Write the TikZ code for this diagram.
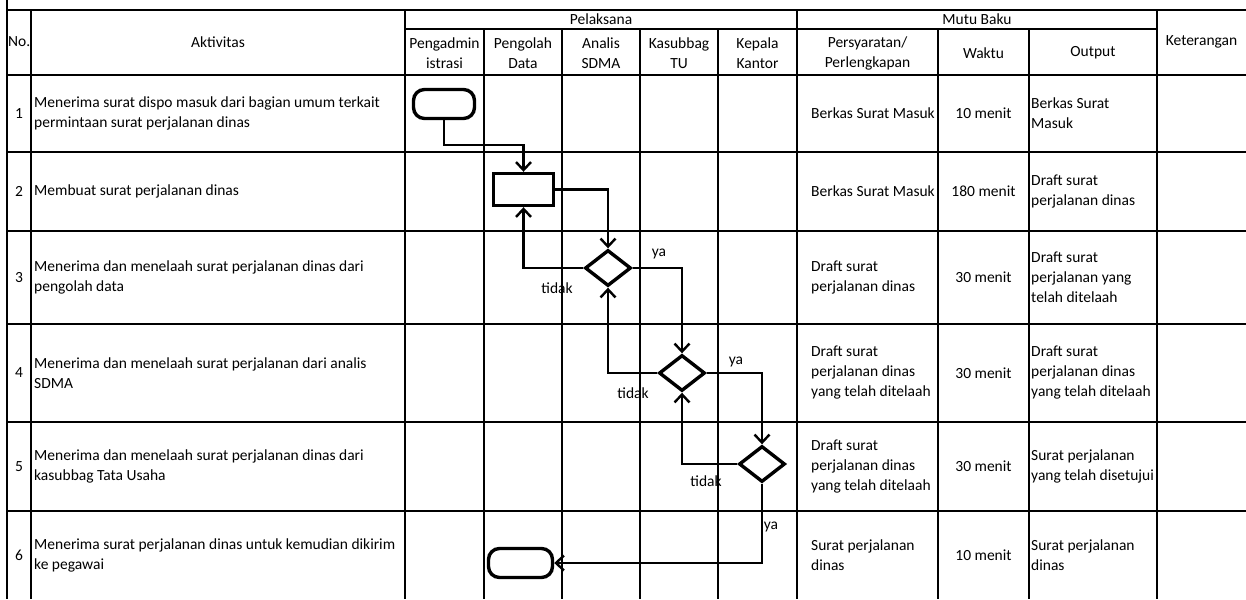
\documentclass[tikz,border=0pt]{standalone}
\usepackage{fontspec}
\setmainfont{Carlito}
\usetikzlibrary{arrows.meta,shapes.geometric}
\begin{document}
\begin{tikzpicture}[x=1pt,y=-1pt,
  tableline/.style={line width=1.9pt},
  txt/.style={font=\fontsize{15.5}{20}\selectfont, inner sep=0pt},
  ctxt/.style={txt, align=center},
  ltxt/.style={txt, align=left, anchor=west},
  shapeline/.style={draw, line width=3.4pt, inner sep=0pt, fill=white},
  terminal/.style={shapeline, rectangle, rounded corners=11pt, minimum width=61pt, minimum height=29pt},
  process/.style={shapeline, rectangle, minimum width=60pt, minimum height=32pt},
  decision/.style={shapeline, diamond, minimum width=46pt, minimum height=36pt},
  flow/.style={line width=2.4pt, -{Straight Barb[length=8pt,width=15pt]}}
]
\useasboundingbox (0,0) rectangle (1246,599);
% ---------- table ----------
\draw[tableline] (7,0) -- (7,599);
\foreach \x in {31,405,797,1157} \draw[tableline] (\x,10) -- (\x,599);
\foreach \x in {484,562,640,718,938,1029} \draw[tableline] (\x,29) -- (\x,599);
\draw[tableline] (7,10) -- (1246,10);
\draw[tableline] (405,29) -- (1157,29);
\foreach \y in {75,152,231,324,422,511} \draw[tableline] (7,\y) -- (1246,\y);
% ---------- header ----------
\node[ltxt] (hno) at (8,42) {No.};
\node[ctxt] (hakt) at (218,42) {Aktivitas};
\node[ctxt] (hpel) at (601,19) {Pelaksana};
\node[ctxt] (hadm) at (444.5,53) {Pengadmin\\istrasi};
\node[ctxt] (hpd) at (523,53) {Pengolah\\Data};
\node[ctxt] (has) at (601,53) {Analis\\SDMA};
\node[ctxt] (hkt) at (679,53) {Kasubbag\\TU};
\node[ctxt] (hkk) at (757.5,53) {Kepala\\Kantor};
\node[ctxt] (hmb) at (977,19) {Mutu Baku};
\node[ctxt] (hpp) at (867.5,53) {Persyaratan/\\Perlengkapan};
\node[ctxt] (hw) at (983.5,53) {Waktu};
\node[ctxt] (ho) at (1093,53) {Output};
\node[ctxt] (hk) at (1201.5,42) {Keterangan};
% ---------- rows ----------
\node[ctxt] (n1) at (19,113.5) {1};
\node[ltxt] (a1) at (34,113.5) {Menerima surat dispo masuk dari bagian umum terkait\\permintaan surat perjalanan dinas};
\node[ltxt] (p1) at (811,113.5) {Berkas Surat Masuk};
\node[ctxt] (w1) at (983.5,113.5) {10 menit};
\node[ltxt] (o1) at (1031,113.5) {Berkas Surat\\Masuk};

\node[ctxt] (n2) at (19,191.5) {2};
\node[ltxt] (a2) at (34,191.5) {Membuat surat perjalanan dinas};
\node[ltxt] (p2) at (811,191.5) {Berkas Surat Masuk};
\node[ctxt] (w2) at (983.5,191.5) {180 menit};
\node[ltxt] (o2) at (1031,191.5) {Draft surat\\perjalanan dinas};

\node[ctxt] (n3) at (19,277.5) {3};
\node[ltxt] (a3) at (34,277.5) {Menerima dan menelaah surat perjalanan dinas dari\\pengolah data};
\node[ltxt] (p3) at (811,277.5) {Draft surat\\perjalanan dinas};
\node[ctxt] (w3) at (983.5,277.5) {30 menit};
\node[ltxt] (o3) at (1031,277.5) {Draft surat\\perjalanan yang\\telah ditelaah};

\node[ctxt] (n4) at (19,373) {4};
\node[ltxt] (a4) at (34,373) {Menerima dan menelaah surat perjalanan dari analis\\SDMA};
\node[ltxt] (p4) at (811,373) {Draft surat\\perjalanan dinas\\yang telah ditelaah};
\node[ctxt] (w4) at (983.5,373) {30 menit};
\node[ltxt] (o4) at (1031,373) {Draft surat\\perjalanan dinas\\yang telah ditelaah};

\node[ctxt] (n5) at (19,466.5) {5};
\node[ltxt] (a5) at (34,466.5) {Menerima dan menelaah surat perjalanan dinas dari\\kasubbag Tata Usaha};
\node[ltxt] (p5) at (811,466.5) {Draft surat\\perjalanan dinas\\yang telah ditelaah};
\node[ctxt] (w5) at (983.5,466.5) {30 menit};
\node[ltxt] (o5) at (1031,466.5) {Surat perjalanan\\yang telah disetujui};

\node[ctxt] (n6) at (19,555) {6};
\node[ltxt] (a6) at (34,555) {Menerima surat perjalanan dinas untuk kemudian dikirim\\ke pegawai};
\node[ltxt] (p6) at (811,555) {Surat perjalanan\\dinas};
\node[ctxt] (w6) at (983.5,555) {10 menit};
\node[ltxt] (o6) at (1031,555) {Surat perjalanan\\dinas};
% ---------- flow shapes ----------
\node[terminal] (start) at (444,104) {};
\node[process] (proc) at (523.5,189.5) {};
\node[decision] (d1) at (608,268) {};
\node[decision] (d2) at (682,373) {};
\node[decision] (d3) at (762,464) {};
\node[terminal, minimum width=64pt] (end) at (520.5,563) {};
% ---------- connectors ----------
\draw[flow] (start.south) -- ++(0,25) -| (proc.north);
\draw[flow] (proc.east) -| (d1.north);
\draw[flow] (d1.west) -| (proc.south);
\draw[flow] (d1.east) -| (d2.north);
\draw[flow] (d2.west) -| (d1.south);
\draw[flow] (d2.east) -| (d3.north);
\draw[flow] (d3.west) -| (d2.south);
\draw[flow] (d3.south) |- (end.east);
% ---------- labels ----------
\node[txt] (ya1) at (659,254) {ya};
\node[txt] (td1) at (557,288) {tidak};
\node[txt] (ya2) at (736,362) {ya};
\node[txt] (td2) at (633,393) {tidak};
\node[txt] (td3) at (706,481) {tidak};
\node[txt] (ya3) at (771,527) {ya};
\end{tikzpicture}
\end{document}
